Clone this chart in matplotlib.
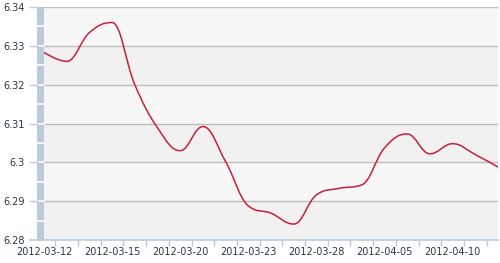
import numpy as np
import matplotlib.pyplot as plt
from matplotlib.path import Path
from matplotlib.patches import PathPatch, Rectangle
from matplotlib.transforms import blended_transform_factory

# trading days shown on the category axis
dates = ["2012-03-12", "2012-03-13", "2012-03-14", "2012-03-15", "2012-03-16",
         "2012-03-19", "2012-03-20", "2012-03-21", "2012-03-22", "2012-03-23",
         "2012-03-26", "2012-03-27", "2012-03-28", "2012-03-29", "2012-03-30",
         "2012-04-05", "2012-04-06", "2012-04-09", "2012-04-10", "2012-04-11",
         "2012-04-12"]
rates = [6.3283, 6.3260, 6.3334, 6.3360, 6.3200, 6.3089, 6.3030, 6.3092,
         6.3002, 6.2888, 6.2869, 6.2841, 6.2916, 6.2933, 6.2942, 6.3037,
         6.3073, 6.3022, 6.3048, 6.3020, 6.2988]
y_ticks = [6.28, 6.29, 6.30, 6.31, 6.32, 6.33, 6.34]
y_labels = ["6.28", "6.29", "6.3", "6.31", "6.32", "6.33", "6.34"]

BAR = "#bccbdb"
TXT = "#2c3744"


def spline_path(xs, ys, smoothing=1.5):
    # spline with flattened handles at local extremes
    n = len(xs)
    denom = smoothing + 1
    lc = [(xs[i], ys[i]) for i in range(n)]
    rc = [(xs[i], ys[i]) for i in range(n)]
    for i in range(1, n - 1):
        px, py = xs[i], ys[i]
        lx, ly = xs[i - 1], ys[i - 1]
        nx, ny = xs[i + 1], ys[i + 1]
        lcx = (smoothing * px + lx) / denom
        lcy = (smoothing * py + ly) / denom
        rcx = (smoothing * px + nx) / denom
        rcy = (smoothing * py + ny) / denom
        corr = (rcy - lcy) * (rcx - px) / (rcx - lcx) + py - rcy
        lcy += corr
        rcy += corr
        if lcy > ly and lcy > py:
            lcy = max(ly, py)
            rcy = 2 * py - lcy
        elif lcy < ly and lcy < py:
            lcy = min(ly, py)
            rcy = 2 * py - lcy
        if rcy > ny and rcy > py:
            rcy = max(ny, py)
            lcy = 2 * py - rcy
        elif rcy < ny and rcy < py:
            rcy = min(ny, py)
            lcy = 2 * py - rcy
        lc[i] = (lcx, lcy)
        rc[i] = (rcx, rcy)
    verts = [(xs[0], ys[0])]
    codes = [Path.MOVETO]
    for i in range(1, n):
        verts += [rc[i - 1], lc[i], (xs[i], ys[i])]
        codes += [Path.CURVE4] * 3
    return Path(verts, codes)


fig = plt.figure(figsize=(5, 2.63), dpi=100)
fig.patch.set_facecolor("white")
ax = fig.add_axes([44 / 500, 1 - 240 / 263, 454 / 500, 233 / 263])
ax.set_xlim(0, len(dates) - 1)
ax.set_ylim(6.28, 6.34)
ax.set_facecolor("#f7f7f7")

# alternating bands
for k in range(0, 6, 2):
    ax.axhspan(y_ticks[k], y_ticks[k + 1], color="#f1f1f1", lw=0, zorder=0)

for v in y_ticks[1:]:
    ax.axhline(v, color="#bdbdbd", lw=1.0, zorder=1)

x = np.arange(len(dates), dtype=float)
ax.add_patch(PathPatch(spline_path(x, rates), fill=False, edgecolor="#c8203a",
                       lw=1.1, zorder=3, capstyle="round"))

for s in ax.spines.values():
    s.set_visible(False)

# left value bar
tr = blended_transform_factory(ax.transAxes, ax.transData)
bw = 7 / 454
ax.add_patch(Rectangle((-bw, 6.28), bw, 0.06, transform=tr,
                       color=BAR, clip_on=False, zorder=2, lw=0))
for v in np.arange(6.285, 6.34, 0.005):
    ax.plot([-bw, 0], [v, v], transform=tr, color="white", lw=1.2,
            clip_on=False, zorder=2.5)
for v in y_ticks[1:]:
    ax.plot([-2 * bw, -bw], [v, v], transform=tr, color=BAR, lw=1.0,
            clip_on=False, zorder=2.5)
ax.plot([-2 * bw, 1], [6.28, 6.28], transform=tr, color=BAR, lw=1.2,
        clip_on=False, zorder=2.6)

ax.set_yticks(y_ticks)
ax.set_yticklabels(y_labels)
ax.tick_params(axis="y", length=0, pad=14, labelsize=7, labelcolor=TXT)

ax.set_xticks(x[::3])
ax.set_xticklabels(dates[::3])
ax.set_xticks(x[:-1] + 0.5, minor=True)
ax.tick_params(axis="x", which="major", length=0, pad=5, labelsize=7,
               labelcolor=TXT)
ax.tick_params(axis="x", which="minor", length=4, width=1, color=BAR)

fig.savefig("out.png", dpi=100)
